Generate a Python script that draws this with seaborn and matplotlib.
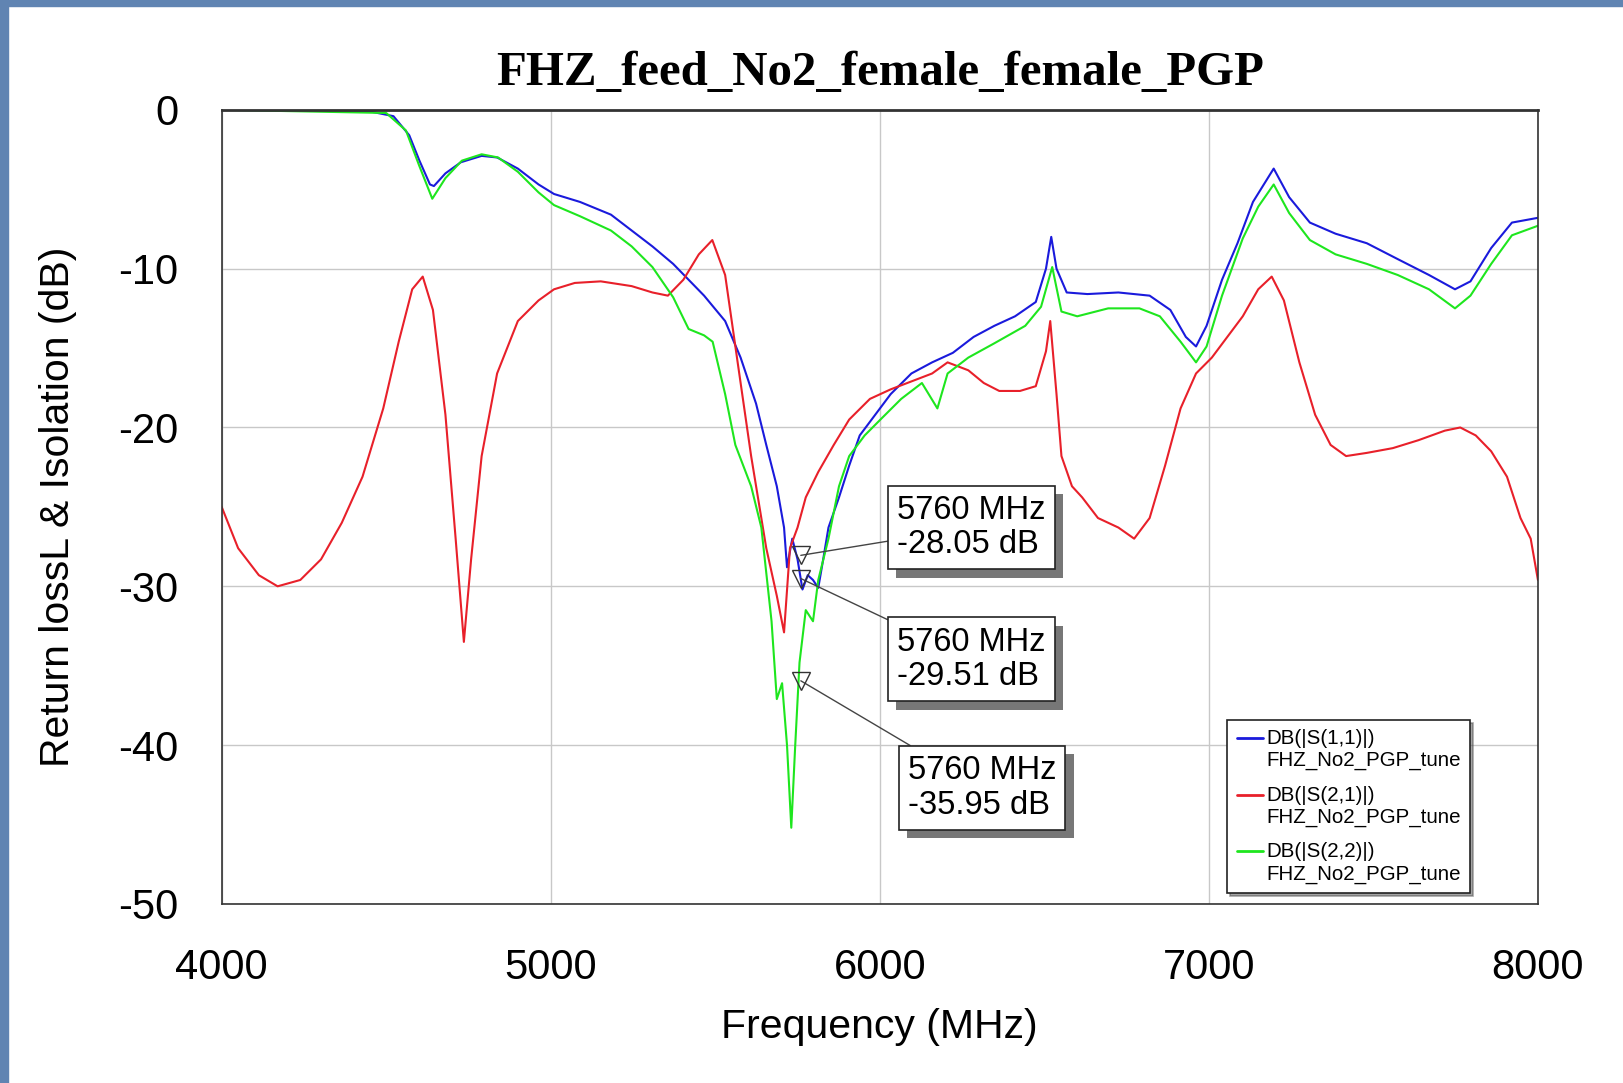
import numpy as np
import pandas as pd
import matplotlib
matplotlib.use("Agg")
import matplotlib.pyplot as plt
import matplotlib.patheffects as pe
from matplotlib.patches import Rectangle
import seaborn as sns

# S-parameter traces (MHz, dB)
s11_freq = [4000, 4450, 4522, 4570, 4601, 4633, 4645, 4680, 4727, 4790, 4837, 4900, 4963, 5010,
            5089, 5183, 5246, 5309, 5372, 5419, 5466, 5530, 5577, 5624, 5655, 5687, 5709, 5718,
            5734, 5750, 5765, 5781, 5797, 5813, 5828, 5844, 5876, 5907, 5939, 5986, 6033, 6096,
            6159, 6222, 6285, 6348, 6411, 6474, 6505, 6521, 6537, 6568, 6631, 6725, 6820, 6883,
            6930, 6961, 6993, 7040, 7087, 7134, 7197, 7244, 7307, 7385, 7480, 7574, 7669, 7748,
            7795, 7858, 7921, 8000]
s11_db = [0.0, -0.1, -0.4, -1.6, -3.2, -4.7, -4.8, -4.0, -3.3, -2.9, -3.0, -3.7, -4.7, -5.3,
          -5.8, -6.6, -7.6, -8.6, -9.7, -10.7, -11.7, -13.3, -15.6, -18.5, -21.1, -23.7, -26.3, -28.8,
          -27.0, -28.3, -30.2, -29.3, -29.6, -30.1, -28.3, -26.3, -24.4, -22.4, -20.5, -19.2, -17.9, -16.6,
          -15.9, -15.3, -14.3, -13.6, -13.0, -12.1, -10.0, -8.0, -10.0, -11.5, -11.6, -11.5, -11.7, -12.6,
          -14.3, -14.9, -13.6, -10.7, -8.4, -5.8, -3.7, -5.5, -7.1, -7.8, -8.4, -9.4, -10.4, -11.3,
          -10.8, -8.7, -7.1, -6.8]

s21_freq = [4000, 4050, 4113, 4170, 4239, 4302, 4365, 4428, 4491, 4538, 4579, 4611, 4642, 4680,
            4711, 4736, 4758, 4790, 4837, 4900, 4963, 5010, 5073, 5152, 5246, 5309, 5356, 5403,
            5450, 5491, 5530, 5568, 5609, 5655, 5687, 5709, 5727, 5750, 5775, 5813, 5860, 5907,
            5970, 6033, 6096, 6159, 6206, 6269, 6316, 6363, 6426, 6474, 6505, 6518, 6537, 6552,
            6584, 6615, 6663, 6725, 6773, 6820, 6867, 6914, 6961, 7009, 7056, 7103, 7150, 7191,
            7228, 7275, 7323, 7370, 7417, 7480, 7559, 7637, 7717, 7764, 7811, 7858, 7906, 7947,
            7978, 8000]
s21_db = [-25.0, -27.6, -29.3, -30.0, -29.6, -28.3, -26.0, -23.1, -18.8, -14.6, -11.3, -10.5, -12.6, -19.2,
          -27.0, -33.5, -28.3, -21.8, -16.6, -13.3, -12.0, -11.3, -10.9, -10.8, -11.1, -11.5, -11.7, -10.7,
          -9.1, -8.2, -10.4, -15.9, -21.8, -27.6, -30.6, -32.9, -27.6, -26.3, -24.4, -22.8, -21.1, -19.5,
          -18.2, -17.6, -17.1, -16.6, -15.9, -16.4, -17.2, -17.7, -17.7, -17.4, -15.2, -13.3, -17.9, -21.8,
          -23.7, -24.4, -25.7, -26.3, -27.0, -25.7, -22.4, -18.8, -16.6, -15.6, -14.3, -13.0, -11.3, -10.5,
          -12.0, -15.9, -19.2, -21.1, -21.8, -21.6, -21.3, -20.8, -20.2, -20.0, -20.5, -21.5, -23.1, -25.7,
          -27.0, -29.6]

s22_freq = [4000, 4500, 4560, 4600, 4640, 4680, 4730, 4790, 4840, 4900, 4963, 5010, 5089, 5183,
            5246, 5309, 5372, 5419, 5466, 5492, 5530, 5561, 5609, 5640, 5671, 5687, 5703, 5718,
            5731, 5743, 5756, 5775, 5797, 5813, 5844, 5876, 5907, 5954, 6002, 6065, 6128, 6175,
            6206, 6269, 6348, 6442, 6490, 6524, 6552, 6600, 6694, 6789, 6851, 6914, 6961, 6993,
            7040, 7103, 7150, 7197, 7244, 7307, 7385, 7480, 7574, 7669, 7748, 7795, 7858, 7921,
            8000]
s22_db = [0.0, -0.2, -1.3, -3.5, -5.6, -4.3, -3.2, -2.8, -3.0, -3.9, -5.2, -6.0, -6.7, -7.6,
          -8.6, -9.9, -11.8, -13.8, -14.2, -14.6, -17.9, -21.1, -23.7, -26.3, -32.2, -37.1, -36.1, -40.0,
          -45.2, -40.0, -34.8, -31.5, -32.2, -29.6, -27.0, -23.7, -21.8, -20.5, -19.5, -18.2, -17.2, -18.8,
          -16.6, -15.6, -14.7, -13.6, -12.4, -9.9, -12.7, -13.0, -12.5, -12.5, -13.0, -14.6, -15.9, -14.9,
          -11.7, -8.1, -6.1, -4.7, -6.5, -8.2, -9.1, -9.7, -10.4, -11.3, -12.5, -11.7, -9.7, -7.9,
          -7.3]

trace_names = ["DB(|S(1,1)|)\nFHZ_No2_PGP_tune", "DB(|S(2,1)|)\nFHZ_No2_PGP_tune",
               "DB(|S(2,2)|)\nFHZ_No2_PGP_tune"]
trace_colors = ["#1a1adc", "#e8202a", "#1ee61e"]

marker_freq = 5760
marker_db = [-28.05, -29.51, -35.95]
marker_text_pos = [(6053, -26.3), (6053, -34.6), (6085, -42.7)]

df = pd.concat([
    pd.DataFrame({"freq": s11_freq, "db": s11_db, "trace": trace_names[0]}),
    pd.DataFrame({"freq": s21_freq, "db": s21_db, "trace": trace_names[1]}),
    pd.DataFrame({"freq": s22_freq, "db": s22_db, "trace": trace_names[2]}),
])

sns.set_style("white")
plt.rcParams["font.family"] = ["Liberation Sans", "DejaVu Sans"]
plt.rcParams["axes.unicode_minus"] = False
plt.rcParams["text.color"] = "black"
plt.rcParams["axes.labelcolor"] = "black"
plt.rcParams["xtick.color"] = "black"
plt.rcParams["ytick.color"] = "black"

fig = plt.figure(figsize=(16.24, 10.83), dpi=100)
ax = fig.add_axes([0.1365, 0.1653, 0.8105, 0.7333])

# slide border strips
fig.patches.append(Rectangle((0, 0), 8 / 1624, 1, transform=fig.transFigure, color="#6084b2", zorder=0))
fig.patches.append(Rectangle((0, 1 - 6 / 1083), 1, 6 / 1083, transform=fig.transFigure, color="#6084b2", zorder=0))

sns.lineplot(data=df, x="freq", y="db", hue="trace", palette=trace_colors, sort=False,
             estimator=None, linewidth=1.5, ax=ax, legend=True)

for (tx, ty), mdb in zip(marker_text_pos, marker_db):
    ax.plot([marker_freq], [mdb], marker="v", markersize=13, markerfacecolor="none",
            markeredgecolor="#333333", markeredgewidth=1.0, zorder=5)
    t = ax.annotate(f"{marker_freq} MHz\n{mdb:.2f} dB", xy=(marker_freq, mdb), xytext=(tx, ty),
                    ha="left", va="center", fontsize=23.5, linespacing=1.15,
                    bbox=dict(boxstyle="square,pad=0.28", fc="white", ec="#222222", lw=1.2),
                    arrowprops=dict(arrowstyle="-", color="#444444", lw=1.0, shrinkA=0, shrinkB=0))
    t.get_bbox_patch().set_path_effects([pe.withSimplePatchShadow(offset=(6, -6), shadow_rgbFace="#777777", alpha=1.0)])

ax.set_xlim(4000, 8000)
ax.set_ylim(-50, 0)
ax.set_xticks([4000, 5000, 6000, 7000, 8000])
ax.set_yticks([0, -10, -20, -30, -40, -50])
ax.tick_params(labelsize=30, length=0)
ax.tick_params(axis="x", pad=32)
ax.tick_params(axis="y", pad=31)
ax.grid(True, color="#c8c8c8", lw=1.0)
for s in ax.spines.values():
    s.set_color("#333333")
    s.set_linewidth(1.2)
ax.spines["top"].set_linewidth(2.0)

ax.set_xlabel("Frequency (MHz)", fontsize=29.5, labelpad=14)
ax.set_ylabel("Return lossL & Isolation (dB)", fontsize=29.5, labelpad=30)
ax.set_title("FHZ_feed_No2_female_female_PGP", fontsize=35.2, fontweight="bold",
             family="Liberation Serif", pad=18)

leg = ax.legend(loc="lower right", bbox_to_anchor=(0.9485, 0.014), fontsize=14.8, frameon=True,
                fancybox=False, shadow=True, handlelength=1.3, handletextpad=0.15,
                labelspacing=0.75, borderpad=0.45, borderaxespad=0)
leg.get_frame().set_edgecolor("#222222")
leg.get_frame().set_linewidth(1.2)
for line in leg.get_lines():
    line.set_linewidth(2.0)
    # align the handle with the first text line, as in the original
    line.set_ydata(np.asarray(line.get_ydata()) + 8.5)

fig.savefig("out.png", dpi=100)
